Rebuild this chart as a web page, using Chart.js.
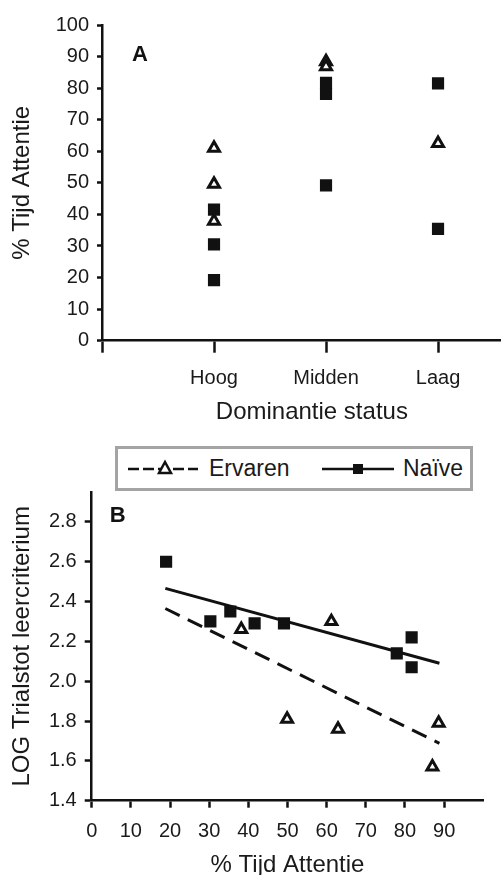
<!DOCTYPE html>
<html>
<head>
<meta charset="utf-8">
<script src="https://cdn.jsdelivr.net/npm/chart.js@4.4.0/dist/chart.umd.min.js"></script>
<style>
  html, body { margin: 0; padding: 0; background: #fff; }
  body { width: 501px; height: 875px; overflow: hidden; position: relative; font-family: "Liberation Sans", Arial, sans-serif; }
  #wrapA { position: absolute; left: 0; top: 0; }
  #wrapB { position: absolute; left: 0; top: 440px; }
  #legend { position: absolute; left: 115px; top: 446px; width: 358px; height: 45px; box-sizing: border-box;
            border: 3px solid #a4a4a4; background: #fff; }
  #legend .item { position: absolute; top: 0; height: 39px; line-height: 39px; font-size: 23px; color: #1a1a1a; }
  #legend svg { position: absolute; top: 10px; }
</style>
</head>
<body>
<div id="wrapA"><canvas id="chartA" width="531" height="430"></canvas></div>
<div id="wrapB"><canvas id="chartB" width="501" height="445"></canvas></div>
<div id="legend">
  <svg width="72" height="20" style="left:9px">
    <line x1="1" y1="10" x2="71" y2="10" stroke="#111" stroke-width="2.5" stroke-dasharray="11,4"/>
    <polygon points="38,3 44,14 32,14" fill="#fff" stroke="#111" stroke-width="2.5"/>
  </svg>
  <span class="item" style="left:91px">Ervaren</span>
  <svg width="72" height="20" style="left:204px">
    <line x1="0" y1="10" x2="72" y2="10" stroke="#111" stroke-width="2.5"/>
    <rect x="31" y="5" width="10" height="10" fill="#111"/>
  </svg>
  <span class="item" style="left:285px">Naïve</span>
</div>
<script>
// ---- panel A: % tijd attentie per dominantie status ----
var categories = ['Hoog', 'Midden', 'Laag'];
var ervarenGroup = ['Hoog', 'Hoog', 'Hoog', 'Midden', 'Midden', 'Laag'];
var ervarenAttentie = [61.0, 49.6, 37.9, 88.4, 86.8, 62.5];
var naiveGroup = ['Hoog', 'Hoog', 'Hoog', 'Midden', 'Midden', 'Midden', 'Laag', 'Laag'];
var naiveAttentie = [41.5, 30.5, 19.2, 81.7, 78.2, 49.2, 81.5, 35.4];
var yTicksA = [0, 10, 20, 30, 40, 50, 60, 70, 80, 90, 100];

// ---- panel B: LOG trials tot leercriterium vs % tijd attentie ----
var ervarenX = [38.2, 49.9, 61.2, 62.9, 87.0, 88.6];
var ervarenY = [2.26, 1.81, 2.30, 1.76, 1.57, 1.79];
var naiveX = [19.0, 30.3, 35.4, 41.6, 49.1, 77.9, 81.7, 81.7];
var naiveY = [2.60, 2.30, 2.35, 2.29, 2.29, 2.14, 2.22, 2.07];
// trend lines (start and end)
var ervarenFitX = [18.8, 88.8];
var ervarenFitY = [2.365, 1.688];
var naiveFitX = [18.8, 88.8];
var naiveFitY = [2.466, 2.090];
var xTicksB = [0, 10, 20, 30, 40, 50, 60, 70, 80, 90];
var yTicksB = [1.4, 1.6, 1.8, 2.0, 2.2, 2.4, 2.6, 2.8];

var FONT = '"Liberation Sans", Arial, sans-serif';
var INK = '#111';
var TXT = '#1a1a1a';

function pts(xs, ys) {
    return xs.map(function (x, i) { return {x: x, y: ys[i]}; });
}

// bold panel letter (A / B)
var panelLabel = {
    id: 'panelLabel',
    afterDraw: function (chart, args, opts) {
        var ctx = chart.ctx, area = chart.chartArea;
        ctx.save();
        ctx.font = 'bold 22px ' + FONT;
        ctx.fillStyle = INK;
        ctx.textAlign = 'center';
        ctx.textBaseline = 'middle';
        ctx.fillText(opts.text, area.left + opts.dx, area.top + opts.dy);
        ctx.restore();
    }
};

function axisStyle(tickLen) {
    return {
        grid: { display: true, drawOnChartArea: false, drawTicks: true, tickLength: tickLen, tickWidth: 2.5, tickColor: INK, color: INK },
        border: { display: true, color: INK, width: 2.5 }
    };
}

var triangle = { pointStyle: 'triangle', pointRadius: 6.3, pointBorderWidth: 3, pointBackgroundColor: '#fff', pointBorderColor: INK };
var square = { pointStyle: 'rect', pointRadius: 8.6, pointBorderWidth: 0, pointBackgroundColor: INK, pointBorderColor: INK };

// start of chart A
var ctxA = document.getElementById('chartA');
var chartA = new Chart(ctxA, {
    type: 'scatter',
    data: {
        datasets: [
            Object.assign({
                label: 'Ervaren',
                data: ervarenGroup.map(function (g, i) { return {x: categories.indexOf(g) + 1, y: ervarenAttentie[i]}; })
            }, triangle),
            Object.assign({
                label: 'Naïve',
                data: naiveGroup.map(function (g, i) { return {x: categories.indexOf(g) + 1, y: naiveAttentie[i]}; })
            }, square)
        ]
    },
    options: {
        responsive: false,
        animation: false,
        layout: { padding: { top: 25, left: 0, right: 0, bottom: 0 } },
        plugins: {
            legend: { display: false },
            tooltip: { enabled: false },
            panelLabel: { text: 'A', dx: 38, dy: 29.5 }
        },
        scales: {
            x: Object.assign({
                type: 'linear', min: 0, max: 3.747,
                afterBuildTicks: function (axis) {
                    axis.ticks = [0].concat(categories.map(function (c, i) { return i + 1; })).map(function (v) { return {value: v}; });
                },
                afterFit: function (axis) { axis.height = 89.3; },
                ticks: {
                    autoSkip: false, maxRotation: 0, padding: 14, color: TXT, font: { family: FONT, size: 20 },
                    callback: function (v) { return categories[v - 1] || ''; }
                },
                title: { display: true, text: 'Dominantie status', color: TXT, font: { family: FONT, size: 24 }, padding: { top: 0, bottom: 3 } }
            }, axisStyle(12)),
            y: Object.assign({
                min: 0, max: 100,
                afterBuildTicks: function (axis) { axis.ticks = yTicksA.map(function (v) { return {value: v}; }); },
                afterFit: function (axis) { axis.width = 102; },
                ticks: { padding: 8, color: TXT, font: { family: FONT, size: 20 } },
                title: { display: true, text: '% Tijd Attentie', color: TXT, font: { family: FONT, size: 24 }, padding: { top: 8, bottom: 0 } }
            }, axisStyle(5))
        }
    },
    plugins: [panelLabel]
});
// end of chart A

// start of chart B
var ctxB = document.getElementById('chartB');
var chartB = new Chart(ctxB, {
    type: 'scatter',
    data: {
        datasets: [
            {
                type: 'line', label: 'Ervaren fit', data: pts(ervarenFitX, ervarenFitY),
                borderColor: INK, borderWidth: 3, borderDash: [16, 9], pointRadius: 0, fill: false
            },
            {
                type: 'line', label: 'Naïve fit', data: pts(naiveFitX, naiveFitY),
                borderColor: INK, borderWidth: 3, pointRadius: 0, fill: false
            },
            Object.assign({ label: 'Ervaren', data: pts(ervarenX, ervarenY) }, triangle),
            Object.assign({ label: 'Naïve', data: pts(naiveX, naiveY) }, square)
        ]
    },
    options: {
        responsive: false,
        animation: false,
        layout: { padding: { top: 52, left: 0, right: 17.7, bottom: 0 } },
        plugins: {
            legend: { display: false },
            tooltip: { enabled: false },
            panelLabel: { text: 'B', dx: 26, dy: 24 }
        },
        scales: {
            x: Object.assign({
                type: 'linear', min: 0, max: 100,
                afterBuildTicks: function (axis) { axis.ticks = xTicksB.map(function (v) { return {value: v}; }); },
                afterFit: function (axis) { axis.height = 84.3; },
                ticks: { autoSkip: false, maxRotation: 0, padding: 12, color: TXT, font: { family: FONT, size: 20 } },
                title: { display: true, text: '% Tijd Attentie', color: TXT, font: { family: FONT, size: 24 }, padding: { top: 0, bottom: 5 } }
            }, axisStyle(7)),
            y: Object.assign({
                min: 1.4, max: 2.95,
                afterBuildTicks: function (axis) { axis.ticks = yTicksB.map(function (v) { return {value: v}; }); },
                afterFit: function (axis) { axis.width = 91.7; },
                ticks: {
                    padding: 8, color: TXT, font: { family: FONT, size: 20 },
                    callback: function (v) { return Number(v).toFixed(1); }
                },
                title: { display: true, text: 'LOG Trialstot leercriterium', color: TXT, font: { family: FONT, size: 24 }, padding: { top: 8, bottom: 0 } }
            }, axisStyle(7))
        }
    },
    plugins: [panelLabel]
});
// end of chart B
</script>
</body>
</html>
